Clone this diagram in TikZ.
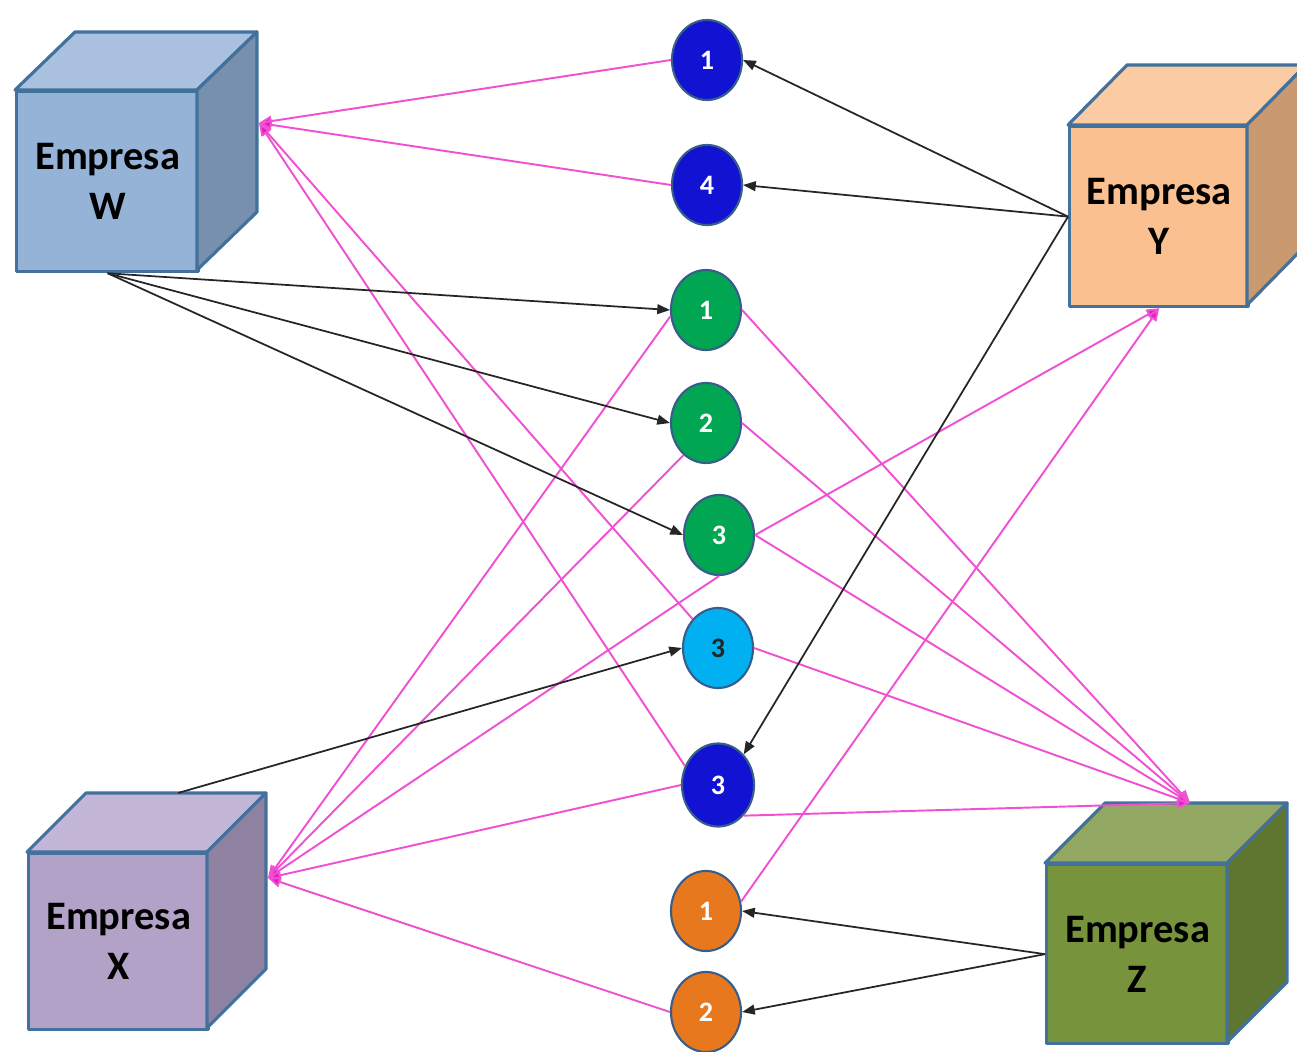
\documentclass[tikz,border=0pt]{standalone}
\usepackage{fontspec}
\setmainfont{Carlito}
\usetikzlibrary{arrows.meta,shapes.geometric}
\definecolor{edgeblue}{HTML}{41719C}
\definecolor{ringblue}{HTML}{385D8A}
\definecolor{wfront}{HTML}{95B3D7}
\definecolor{wtop}{HTML}{A9C1DF}
\definecolor{wside}{HTML}{7790AE}
\definecolor{yfront}{HTML}{FAC08F}
\definecolor{ytop}{HTML}{FBCBA3}
\definecolor{yside}{HTML}{C9996F}
\definecolor{xfront}{HTML}{B3A2C7}
\definecolor{xtop}{HTML}{C2B5D6}
\definecolor{xside}{HTML}{8F82A0}
\definecolor{zfront}{HTML}{77933C}
\definecolor{ztop}{HTML}{93A862}
\definecolor{zside}{HTML}{5F7630}
\definecolor{cblue}{HTML}{1212D2}
\definecolor{cgreen}{RGB}{0,166,81}
\definecolor{ccyan}{HTML}{00B0F0}
\definecolor{corange}{RGB}{232,120,30}
\definecolor{pinkline}{RGB}{240,80,210}
\definecolor{pinktip}{RGB}{228,30,190}
\begin{document}
\begin{tikzpicture}[x=0.01cm,y=-0.01cm,
  cubeedge/.style={draw=edgeblue, line width=0.9pt, line join=round},
  front/.style={cubeedge, rectangle, inner sep=0pt, anchor=north west, align=center,
    font=\bfseries\fontsize{11.5}{14.2}\selectfont},
  num/.style={ellipse, draw=ringblue, line width=0.6pt, minimum width=0.7cm,
    minimum height=0.8cm, inner sep=0pt, text=white,
    font=\bfseries\fontsize{8}{9}\selectfont},
  blk/.style={draw=black!85, line width=0.5pt, -{Triangle[length=3.6pt,width=2.8pt]}},
  pnk/.style={draw=pinkline, line width=0.55pt, -{Triangle[length=3.6pt,width=3pt,fill=pinktip]}},
]
\useasboundingbox (0,0) rectangle (1297,1052);

% Cube W
\node[front, fill=wfront, minimum width=1.82cm, minimum height=1.8cm] (W) at (15,90) {Empresa\\W};
\filldraw[cubeedge, fill=wtop] (15,90) -- ++(60,-58) -- ++(182,0) -- ++(-60,58) -- cycle;
\filldraw[cubeedge, fill=wside] (197,90) -- ++(60,-58) -- ++(0,180) -- ++(-60,58) -- cycle;

% Cube Y
\node[front, fill=yfront, minimum width=1.79cm, minimum height=1.8cm] (Y) at (1068,125) {Empresa\\Y};
\filldraw[cubeedge, fill=ytop] (1068,125) -- ++(59,-60) -- ++(179,0) -- ++(-59,60) -- cycle;
\filldraw[cubeedge, fill=yside] (1247,125) -- ++(59,-60) -- ++(0,180) -- ++(-59,60) -- cycle;

% Cube X
\node[front, fill=xfront, minimum width=1.8cm, minimum height=1.76cm] (X) at (27,852) {Empresa\\X};
\filldraw[cubeedge, fill=xtop] (27,852) -- ++(59,-59) -- ++(180,0) -- ++(-59,59) -- cycle;
\filldraw[cubeedge, fill=xside] (207,852) -- ++(59,-59) -- ++(0,176) -- ++(-59,59) -- cycle;

% Cube Z
\node[front, fill=zfront, minimum width=1.82cm, minimum height=1.79cm] (Z) at (1045,863) {Empresa\\Z};
\filldraw[cubeedge, fill=ztop] (1045,863) -- ++(60,-60) -- ++(182,0) -- ++(-60,60) -- cycle;
\filldraw[cubeedge, fill=zside] (1227,863) -- ++(60,-60) -- ++(0,179) -- ++(-60,60) -- cycle;

% connection points on the cubes
\coordinate (Win) at (259,123);
\coordinate (Xin) at (268,878);
\coordinate (Xout) at (178,793);
\coordinate (Zin) at (1190,803);

% numbered circles
\node[num, fill=cblue] (b1) at (707,60) {1};
\node[num, fill=cblue] (b4) at (707,185) {4};
\node[num, fill=cgreen] (g1) at (706,310) {1};
\node[num, fill=cgreen] (g2) at (706,423) {2};
\node[num, fill=cgreen] (g3) at (719,535) {3};
\node[num, fill=ccyan, text=black!85] (c3) at (718,648) {3};
\node[num, fill=cblue, minimum width=0.72cm, minimum height=0.83cm] (b3) at (718,785) {3};
\node[num, fill=corange] (o1) at (706,911) {1};
\node[num, fill=corange] (o2) at (706,1012) {2};

% pink connectors
\draw[pnk] (b1.west) -- (Win);
\draw[pnk] (b4.west) -- (Win);
\draw[pnk] (c3.north west) -- (Win);
\draw[pnk] (b3.150) -- (Win);
\draw[pnk] (g1.190) -- (Xin);
\draw[pnk] (g2.235) -- (Xin);
\draw[pnk] (g3.south) -- (Xin);
\draw[pnk] (b3.west) -- (Xin);
\draw[pnk] (o2.west) -- (Xin);
\draw[pnk] (g3.east) -- (Y.south);
\draw[pnk] (o1.15) -- (Y.south);
\draw[pnk] (g1.east) -- (Zin);
\draw[pnk] (g2.east) -- (Zin);
\draw[pnk] (g3.east) -- (Zin);
\draw[pnk] (c3.east) -- (Zin);
\draw[pnk] (b3.-50) -- (Zin);

% black connectors
\draw[blk] (Y.west) -- (b1.east);
\draw[blk] (Y.west) -- (b4.east);
\draw[blk] (Y.west) -- (b3.50);
\draw[blk] (W.south) -- (g1.west);
\draw[blk] (W.south) -- (g2.west);
\draw[blk] (W.south) -- (g3.west);
\draw[blk] (Xout) -- (c3.west);
\draw[blk] (Z.west) -- (o1.east);
\draw[blk] (Z.west) -- (o2.east);
\end{tikzpicture}
\end{document}
